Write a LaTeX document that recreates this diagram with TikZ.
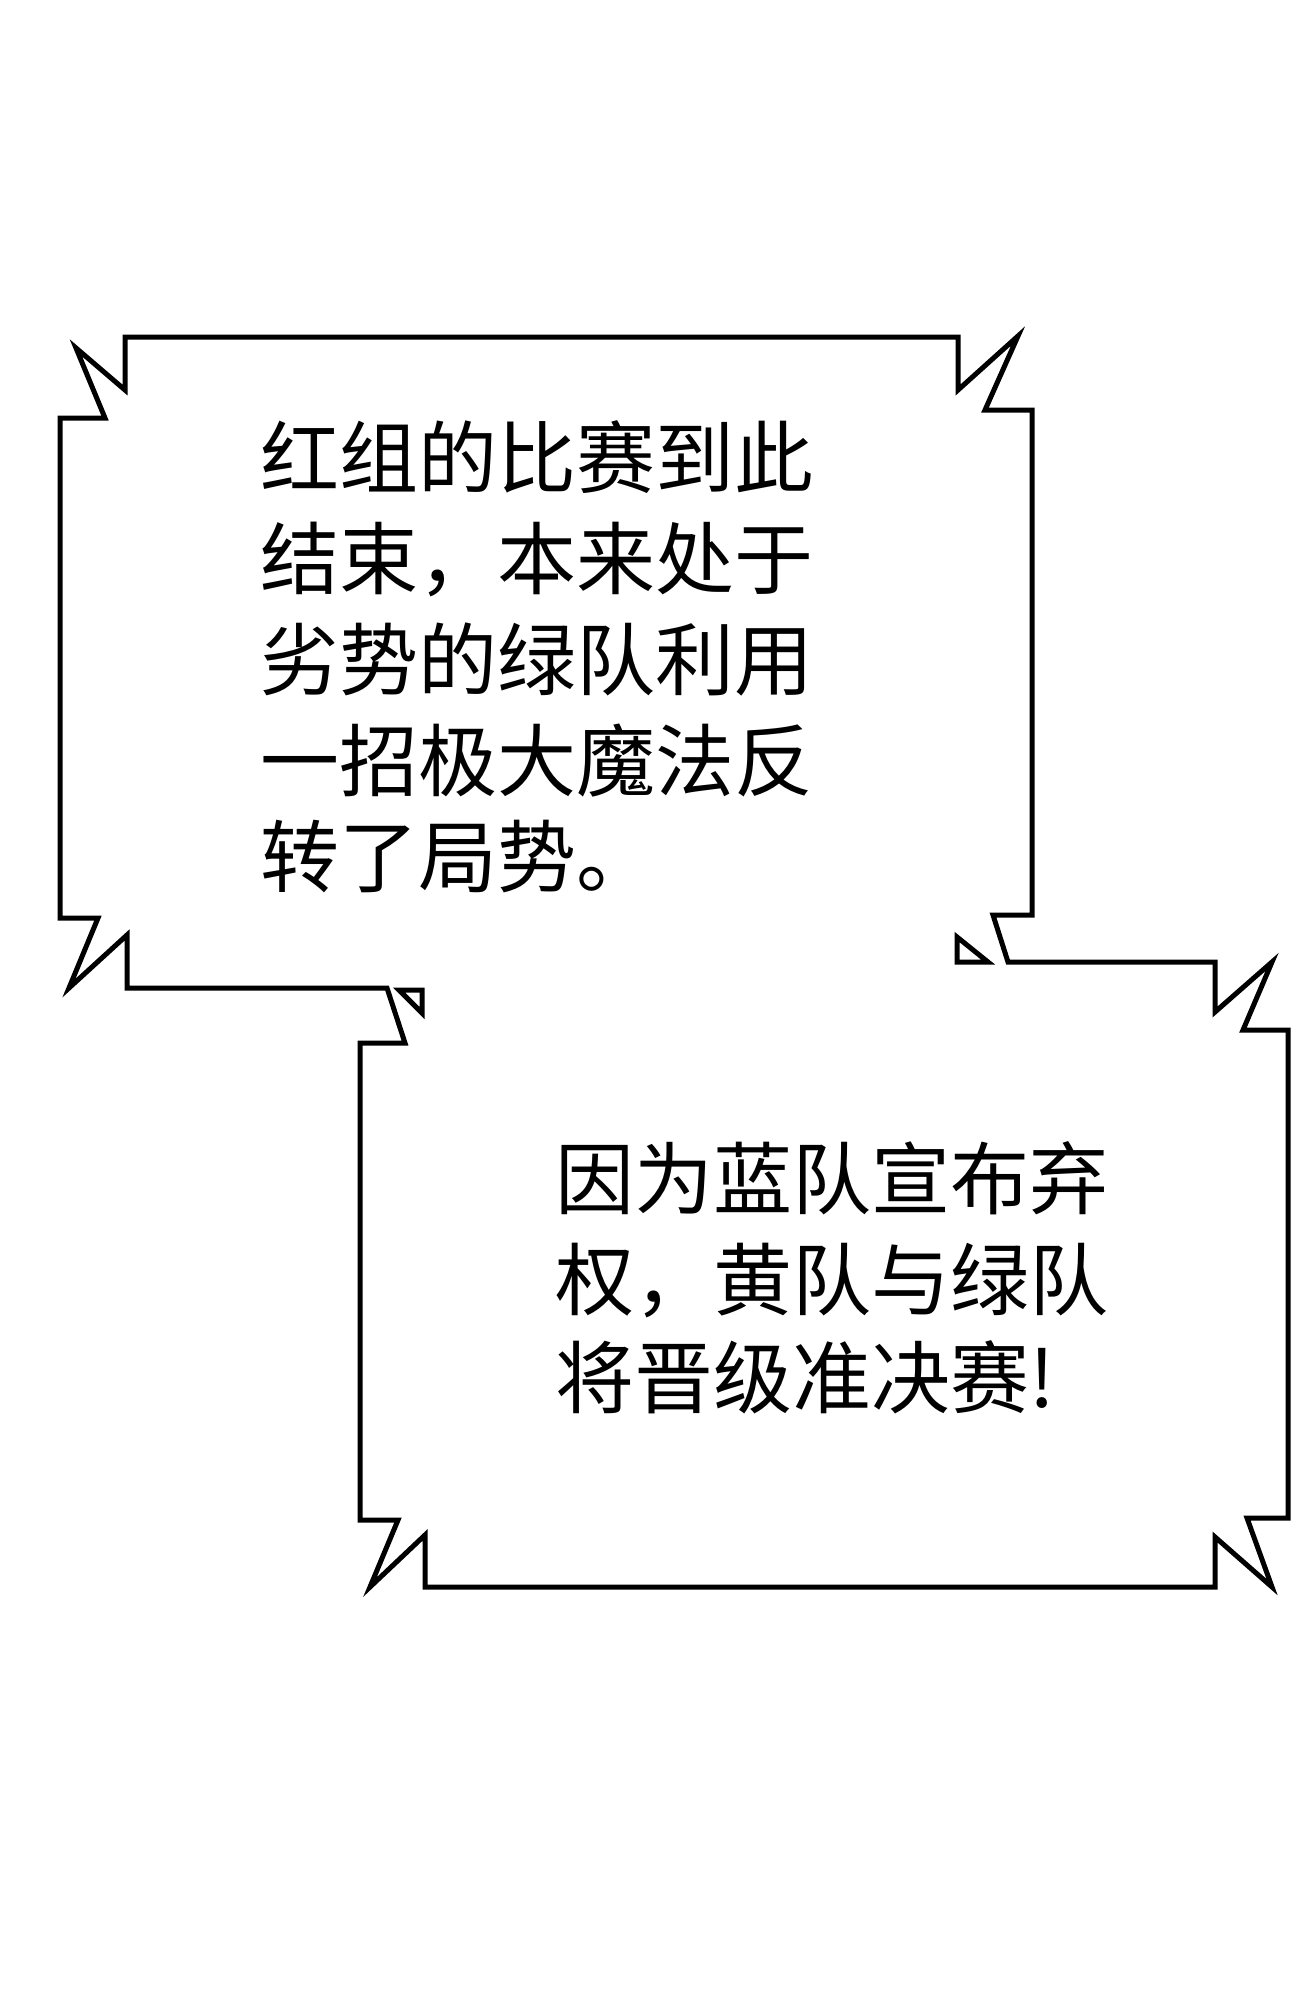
\documentclass[tikz,border=0pt]{standalone}
\usepackage{fontspec}
\newfontfamily\cjk{Noto Sans CJK SC}
\begin{document}
\begin{tikzpicture}[x=1pt,y=-1pt,
  bubble/.style={draw=black,line width=5pt,line join=miter,fill=white},
  txt/.style={anchor=base west,inner sep=0pt,font=\cjk\fontsize{79}{90}\selectfont}]
\useasboundingbox (0,0) rectangle (1300,1993);
\fill[white] (0,0) rectangle (1300,1993);
% bubble 1 outline
\draw[bubble] (125,337) -- (958,337) -- (958,390) -- (1018,336) -- (985,410) -- (1032,410)
  -- (1032,915) -- (993,915) -- (1008,962) -- (1215,962) -- (1215,1012) -- (1272,962)
  -- (1243,1030) -- (1288,1030) -- (1288,1518) -- (1247,1518) -- (1272,1587) -- (1215,1537)
  -- (1215,1587) -- (425,1587) -- (425,1535) -- (370,1587) -- (398,1520) -- (360,1520)
  -- (360,1043) -- (405,1043) -- (387,988) -- (127,988) -- (127,935) -- (69,988)
  -- (98,918) -- (60,918) -- (60,418) -- (105,418) -- (76,348) -- (125,390) -- cycle;
% small triangles
\draw[line width=5pt,line join=miter] (957,937) -- (957,962) -- (988,962) -- cycle;
\draw[line width=5pt,line join=miter] (399,990) -- (422,990) -- (422,1013) -- cycle;
% texts
\node[txt] (a1) at (260,487) {红组的比赛到此};
\node[txt] (a2) at (260,588) {结束，本来处于};
\node[txt] (a3) at (260,689) {劣势的绿队利用};
\node[txt] (a4) at (260,790) {一招极大魔法反};
\node[txt] (a5) at (260,886) {转了局势。};
\node[txt] (b1) at (555,1208) {因为蓝队宣布弃};
\node[txt] (b2) at (555,1309) {权，黄队与绿队};
\node[txt] (b3) at (555,1407) {将晋级准决赛!};
\end{tikzpicture}
\end{document}
